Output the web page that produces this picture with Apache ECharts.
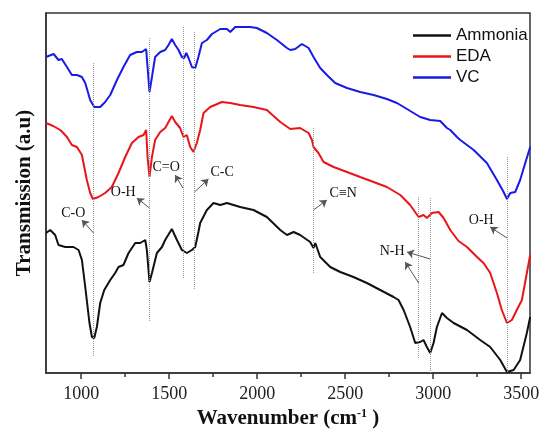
<!DOCTYPE html>
<html>
<head>
<meta charset="utf-8">
<script src="https://cdn.jsdelivr.net/npm/echarts@6/dist/echarts.min.js"></script>
<style>html,body{margin:0;padding:0;background:#fff}#c{width:542px;height:429px}</style>
</head>
<body>
<div id="c"></div>
<script>
// ---- data (wavenumber in cm^-1, transmission in arbitrary units) ----
var seriesNames = ['Ammonia', 'EDA', 'VC'];

var ammoniaWn = [800,824,852,871,909,956,985,1004,1023,1047,1061,1074,1089,1108,1131,1165,1193,1212,1240,1269,1307,1335,1364,1373,1388,1402,1430,1459,1477,1515,1521,1544,1572,1600,1629,1648,1666,1676,1714,1752,1790,1828,1903,1979,2055,2131,2169,2207,2244,2301,2320,2330,2358,2415,2472,2547,2623,2699,2775,2803,2832,2869,2898,2926,2945,2964,2983,3002,3021,3050,3078,3116,3192,3267,3324,3381,3419,3457,3494,3532,3551];
var ammoniaT  = [140,143,138,128,126,126,123,113,86,50,36,35,46,70,83,93,100,106,108,120,130,130,133,123,91,100,120,126,133,144,146,133,123,120,123,126,141,150,163,170,168,170,166,163,156,143,138,141,138,131,125,130,116,106,101,96,90,83,76,73,63,46,30,31,33,26,20,30,46,60,55,50,43,33,26,13,1,3,13,40,56];

var edaWn = [800,841,881,898,919,947,976,1004,1032,1051,1066,1098,1136,1174,1212,1250,1288,1326,1354,1369,1377,1388,1402,1420,1449,1477,1515,1534,1562,1581,1600,1619,1638,1657,1676,1695,1733,1799,1847,1903,1979,2055,2131,2188,2244,2292,2311,2320,2330,2348,2377,2434,2510,2585,2661,2737,2813,2869,2917,2945,2964,2993,3031,3059,3097,3144,3192,3249,3286,3324,3362,3390,3419,3447,3475,3504,3532,3551];
var edaT  = [250,247,243,240,236,228,226,218,193,180,174,176,180,186,200,216,230,236,238,243,216,196,216,233,241,245,257,251,245,236,238,226,221,230,243,260,266,271,270,268,266,263,251,244,245,240,233,226,228,220,211,206,201,196,191,186,178,168,156,158,155,160,161,155,143,132,126,116,110,100,80,63,50,53,63,73,100,118];

var vcWn = [800,843,871,890,919,947,976,1004,1023,1051,1074,1108,1136,1165,1203,1240,1278,1316,1345,1369,1377,1388,1402,1420,1449,1477,1496,1515,1534,1553,1572,1585,1597,1610,1629,1648,1666,1686,1714,1743,1790,1828,1847,1875,1922,1960,1998,2055,2112,2169,2188,2216,2254,2292,2320,2358,2396,2443,2510,2585,2661,2737,2794,2851,2926,2983,3040,3078,3097,3135,3154,3230,3305,3362,3400,3419,3438,3466,3494,3523,3551];
var vcT  = [316,319,313,314,306,298,298,296,290,273,266,266,271,278,293,306,318,321,321,324,306,281,296,316,321,323,328,334,328,323,316,315,320,315,306,305,316,330,333,339,344,344,341,346,346,346,345,340,333,325,323,324,329,325,316,305,298,290,285,281,278,274,270,264,256,253,252,245,243,236,233,223,210,193,181,174,180,181,193,210,226];

var xTickLabels = [1000, 1500, 2000, 2500, 3000, 3500];
var xMinorTicks = [1250, 1750, 2250, 2750, 3250];

// peak assignments: wavenumber of the dotted guide line, and its label
var peakWn     = [1070, 1388, 1578, 1644, 2320, 2917, 2983, 3419];
var peakLabels = ['C-O', 'O-H', 'C=O', 'C-C', 'C\u2261N', 'N-H', 'N-H', 'O-H'];
// guide line vertical extent [top, bottom] in transmission units
var guideTop    = [310, 335, 346, 341, 245, 176, 175, 216];
var guideBottom = [17, 51, 95, 83, 100, 15, 0, 0];
// arrow start (on guide line) and end (near label), label centre
var arrowFromT  = [140, 165, 185, 181, 163, 90, 114, 135];
var arrowToWn   = [1004, 1316, 1534, 1723, 2396, 2841, 2851, 3324];
var arrowToT    = [153, 175, 198, 194, 173, 111, 121, 146];
var labelWn     = [955, 1239, 1483, 1801, 2489, null, 2767, 3273];
var labelT      = [160, 181, 206, 201, 180, null, 122, 153];

function pairs(xs, ys) { return xs.map(function (x, i) { return [x, ys[i]]; }); }

var guideData = peakWn.map(function (w, i) {
  return [{ coord: [w, guideTop[i]] }, { coord: [w, guideBottom[i]] }];
});
var arrowData = peakWn.map(function (w, i) {
  return [{ coord: [w, arrowFromT[i]] }, { coord: [arrowToWn[i], arrowToT[i]] }];
});
var labelData = [];
peakWn.forEach(function (w, i) {
  if (labelWn[i] != null) {
    labelData.push({ coord: [labelWn[i], labelT[i]], value: peakLabels[i] });
  }
});

var serif = '"Liberation Serif", "Times New Roman", serif';
var sans = '"Liberation Sans", Arial, sans-serif';

var chart = echarts.init(document.getElementById('c'), null, { renderer: 'canvas' });
chart.setOption({
  animation: false,
  backgroundColor: '#fff',
  grid: { left: 46, right: 12, top: 13, bottom: 56, outerBoundsMode: 'none', containLabel: false, show: true, borderColor: '#333', borderWidth: 1.5, backgroundColor: 'transparent' },
  legend: {
    data: seriesNames,
    orient: 'vertical',
    left: 408, top: 22,
    icon: 'rect',
    itemWidth: 38, itemHeight: 2.5, itemGap: 4,
    textStyle: { fontFamily: sans, fontSize: 17, color: '#111' }
  },
  xAxis: [{
    type: 'value', min: 800, max: 3550,
    name: '{a|Wavenumber (cm}{b|-1}{a| )}',
    nameLocation: 'middle', nameGap: 35,
    nameTextStyle: {
      rich: {
        a: { fontFamily: serif, fontSize: 21, fontWeight: 'bold', color: '#111' },
        b: { fontFamily: serif, fontSize: 12, fontWeight: 'bold', color: '#111', padding: [0, 0, 10, 0] }
      }
    },
    axisLine: { show: true, onZero: false, lineStyle: { color: '#333', width: 1.5 } },
    axisTick: { show: true, customValues: xTickLabels, length: 6, lineStyle: { color: '#333', width: 1.5 } },
    axisLabel: { customValues: xTickLabels, formatter: function (v) { return String(v); }, fontFamily: serif, fontSize: 18, color: '#222', margin: 12 },
    splitLine: { show: false }
  }, {
    type: 'value', min: 800, max: 3550, position: 'bottom', gridIndex: 0,
    axisLine: { show: false },
    axisTick: { show: true, customValues: xMinorTicks, length: 4, lineStyle: { color: '#333', width: 1.5 } },
    axisLabel: { show: false },
    splitLine: { show: false }
  }],
  yAxis: {
    type: 'value', min: 0, max: 360,
    name: 'Transmission (a.u)',
    nameLocation: 'middle', nameGap: 11,
    nameTextStyle: { fontFamily: serif, fontSize: 21, fontWeight: 'bold', color: '#111' },
    axisLine: { show: true, onZero: false, lineStyle: { color: '#333', width: 1.5 } },
    axisTick: { show: false },
    axisLabel: { show: false },
    splitLine: { show: false }
  },
  series: [{
    name: 'Ammonia', type: 'line', data: pairs(ammoniaWn, ammoniaT),
    showSymbol: false, symbol: 'none', lineStyle: { color: '#111', width: 2 }, itemStyle: { color: '#111' },
    z: 3,
    markLine: {
      silent: true, symbol: ['none', 'none'],
      label: { show: false },
      lineStyle: { color: '#9a9a9a', type: 'dotted', width: 1 },
      data: guideData,
      animation: false
    },
    markPoint: {
      silent: true,
      symbol: 'circle', symbolSize: 0,
      label: { show: true, position: 'inside', formatter: function (p) { return p.value; }, fontFamily: serif, fontSize: 14, color: '#111' },
      data: labelData,
      animation: false
    }
  }, {
    name: 'EDA', type: 'line', data: pairs(edaWn, edaT),
    showSymbol: false, symbol: 'none', lineStyle: { color: '#e8161b', width: 2 }, itemStyle: { color: '#e8161b' },
    z: 3,
    markLine: {
      silent: true, symbol: ['none', 'arrow'], symbolSize: 7,
      label: { show: false },
      lineStyle: { color: '#555', type: 'solid', width: 1 },
      data: arrowData,
      animation: false
    }
  }, {
    name: 'VC', type: 'line', data: pairs(vcWn, vcT),
    showSymbol: false, symbol: 'none', lineStyle: { color: '#1a1ae6', width: 2 }, itemStyle: { color: '#1a1ae6' },
    z: 3
  }]
});
</script>
</body>
</html>
